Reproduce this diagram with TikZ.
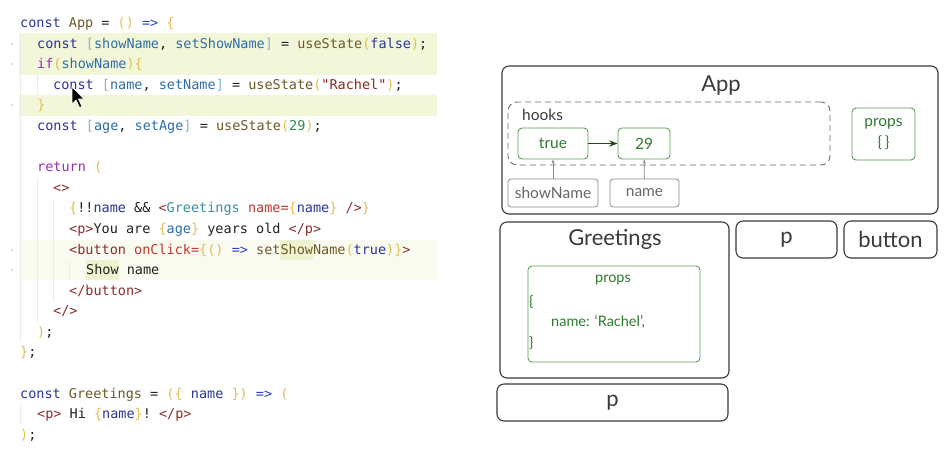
\documentclass[tikz,border=0pt]{standalone}
\usepackage{fontspec}
\setmainfont{Lato}
\setmonofont{DejaVu Sans Mono}
\usetikzlibrary{arrows.meta,positioning}

% code colours
\definecolor{cKw}{HTML}{2B3595}
\definecolor{cFn}{HTML}{6D5A2A}
\definecolor{cVar}{HTML}{2F6EA5}
\definecolor{cBr}{HTML}{7FB6E0}
\definecolor{cPar}{HTML}{E2BE55}
\definecolor{cStr}{HTML}{8E2B1E}
\definecolor{cNum}{HTML}{2E8B4E}
\definecolor{cCtl}{HTML}{9A2FB0}
\definecolor{cArr}{HTML}{2940D0}
\definecolor{cTag}{HTML}{8B2E2E}
\definecolor{cComp}{HTML}{3A8FA3}
\definecolor{cAttr}{HTML}{C0392B}
\definecolor{cTxt}{HTML}{222222}
\definecolor{cHi}{HTML}{F3F7DA}
\definecolor{cHiLight}{HTML}{FAFBF0}
\definecolor{cWord}{HTML}{EEF3CF}
\definecolor{cGuide}{HTML}{EBEBEB}
% diagram colours
\definecolor{cBox}{HTML}{3A3A3A}
\definecolor{cGreen}{HTML}{5A9E5A}
\definecolor{cGreenTxt}{HTML}{2E7A2E}
\definecolor{cGray}{HTML}{8A8A8A}
\definecolor{cGrayTxt}{HTML}{666666}

\newcommand\codefont{\ttfamily\fontsize{13.5}{16}\selectfont}
\newcommand\ckw[1]{\textcolor{cKw}{#1}}
\newcommand\cfn[1]{\textcolor{cFn}{#1}}
\newcommand\cvar[1]{\textcolor{cVar}{#1}}
\newcommand\cbr[1]{\textcolor{cBr}{#1}}
\newcommand\cpar[1]{\textcolor{cPar}{#1}}
\newcommand\cstr[1]{\textcolor{cStr}{#1}}
\newcommand\cnum[1]{\textcolor{cNum}{#1}}
\newcommand\cctl[1]{\textcolor{cCtl}{#1}}
\newcommand\carr[1]{\textcolor{cArr}{#1}}
\newcommand\ctag[1]{\textcolor{cTag}{#1}}
\newcommand\ccomp[1]{\textcolor{cComp}{#1}}
\newcommand\cattr[1]{\textcolor{cAttr}{#1}}

\tikzset{
  code/.style={anchor=base west,inner sep=0pt,font=\codefont,text=cTxt},
  compbox/.style={draw=cBox,line width=1.1pt,rounded corners=7pt},
  title/.style={inner sep=0pt,font=\fontsize{22}{26}\selectfont,text=cBox},
  hookbox/.style={draw=cGray!80!black,dashed,dash pattern=on 6pt off 4pt,line width=0.9pt,rounded corners=9pt},
  greenbox/.style={draw=cGreen,line width=0.9pt,rounded corners=4pt,text=cGreenTxt,font=\fontsize{15.5}{21}\selectfont},
  graybox/.style={draw=cGray,line width=0.8pt,rounded corners=3pt,text=cGrayTxt,font=\fontsize{15.5}{19}\selectfont},
  small/.style={inner sep=0pt,font=\fontsize{15.5}{19}\selectfont},
}

\begin{document}
\begin{tikzpicture}[x=1pt,y=-1pt,>=Stealth]
\useasboundingbox[fill=white] (0,0) rectangle (950,448);

% editor highlights
\fill[cHi] (19,33) rectangle (437,75);
\fill[cHi] (19,95) rectangle (437,116);
\fill[cHiLight] (19,240) rectangle (437,280);
\fill[cWord] (280,240) rectangle (313,260);
\fill[cWord] (86,260) rectangle (119,280);
% indent guides
\draw[cGuide,line width=0.8pt] (20,34) -- (20,342);
\draw[cGuide,line width=0.8pt] (37,75) -- (37,95);
\draw[cGuide,line width=0.8pt] (37,178) -- (37,322);
\draw[cGuide,line width=0.8pt] (53,199) -- (53,301);
\draw[cGuide,line width=0.8pt] (69,261) -- (69,281);
\draw[cGuide,line width=0.8pt] (20,404) -- (20,424);
% gutter marks
\foreach \yy in {44,64,105,250,270}
  \fill[cGray!60] (12,\yy) circle (0.8pt);

% code
\node[code] (l1) at (20,27.5) {\ckw{const} \cfn{App} = \cpar{()} \carr{=>} \cpar{\{}};
\node[code] (l2) at (37,48) {\ckw{const} \cbr{[}\cvar{showName}, \cvar{setShowName}\cbr{]} = \cfn{useState}\cpar{(}\ckw{false}\cpar{)};};
\node[code] (l3) at (37,68.5) {\cctl{if}\cpar{(}\cvar{showName}\cpar{)\{}};
\node[code] (l4) at (53,89) {\ckw{const} \cbr{[}\cvar{name}, \cvar{setName}\cbr{]} = \cfn{useState}\cpar{(}\cstr{"Rachel"}\cpar{)};};
\node[code] (l5) at (37,109.5) {\cpar{\}}};
\node[code] (l6) at (37,130) {\ckw{const} \cbr{[}\cvar{age}, \cvar{setAge}\cbr{]} = \cfn{useState}\cpar{(}\cnum{29}\cpar{)};};
\node[code] (l8) at (37,171.5) {\cctl{return} \cpar{(}};
\node[code] (l9) at (53,192) {\ctag{<>}};
\node[code] (l10) at (69,212.5) {\cpar{\{}!!\ckw{name} \&\& \ctag{<}\ccomp{Greetings} \cattr{name=}\cpar{\{}\ckw{name}\cpar{\}} \ctag{/>}\cpar{\}}};
\node[code] (l11) at (69,233) {\ctag{<p>}You are \cpar{\{}\cvar{age}\cpar{\}} years old \ctag{</p>}};
\node[code] (l12) at (69,254) {\ctag{<button} \cattr{onClick=}\cpar{\{()} \carr{=>} \cfn{setShowName}\cpar{(}\ckw{true}\cpar{)\}}\ctag{>}};
\node[code] (l13) at (86,274.5) {Show name};
\node[code] (l14) at (69,295) {\ctag{</button>}};
\node[code] (l15) at (53,315.5) {\ctag{</>}};
\node[code] (l16) at (37,336) {\cpar{)};};
\node[code] (l17) at (20,356.5) {\cpar{\}};};
\node[code] (l19) at (20,398) {\ckw{const} \cfn{Greetings} = \cpar{(\{} \ckw{name} \cpar{\})} \carr{=>} \cpar{(}};
\node[code] (l20) at (37,418.5) {\ctag{<p>} Hi \cpar{\{}\ckw{name}\cpar{\}}! \ctag{</p>}};
\node[code] (l21) at (20,439) {\cpar{)};};

% mouse pointer
\draw[fill=black,draw=white,line width=0.7pt,line join=round]
  (72,87) -- ++(0,17) -- ++(4,-4) -- ++(3.5,7.5) -- ++(2.5,-1) -- ++(-3.5,-7.5) -- ++(5.5,0) -- cycle;

% App component
\node[compbox,minimum width=436pt,minimum height=148pt] (app) at (720,140) {};
\node[title] (applbl) at (721,85) {App};
\node[hookbox,minimum width=322pt,minimum height=63pt] (hooks) at (669,133.5) {};
\node[small,anchor=west,text=cBox] (hookslbl) at (522,115) {hooks};
\node[greenbox,minimum width=70pt,minimum height=31pt] (htrue) at (553,143.5) {true};
\node[greenbox,minimum width=52pt,minimum height=31pt] (h29) at (644,143.5) {29};
\node[graybox,minimum width=90pt,minimum height=28pt] (showname) at (553,193) {showName};
\node[graybox,minimum width=69pt,minimum height=28pt] (namevar) at (644.5,193) {name};
\node[greenbox,minimum width=63pt,minimum height=52pt,align=center] (appprops) at (883.5,134) {props\\\{\,\}};
\draw[->,line width=1.2pt,draw=cGreenTxt!60!black] (htrue) -- (h29);
\draw[-{Stealth[length=4pt,width=3pt]},line width=0.8pt,draw=cGray] (showname) -- (htrue);
\draw[-{Stealth[length=4pt,width=3pt]},line width=0.8pt,draw=cGray] (namevar) -- (h29);

% Greetings component
\node[compbox,minimum width=229pt,minimum height=156pt] (greet) at (614.5,300) {};
\node[title] (greetlbl) at (615,239) {Greetings};
\node[greenbox,minimum width=172pt,minimum height=96pt] (gprops) at (614,314) {};
\node[small,text=cGreenTxt,font=\fontsize{14.5}{18}\selectfont] (gpropslbl) at (613,280) {props};
\node[small,anchor=west,text=cGreenTxt,font=\fontsize{14.5}{18}\selectfont] (gopen) at (529,302) {\{};
\node[small,anchor=west,text=cGreenTxt,font=\fontsize{14.5}{18}\selectfont] (gname) at (551,322) {name: `Rachel',};
\node[small,anchor=west,text=cGreenTxt,font=\fontsize{14.5}{18}\selectfont] (gclose) at (529,343) {\}};

% host elements
\node[compbox,minimum width=101pt,minimum height=37pt,title,draw=cBox] (pone) at (786.5,239.5) {p};
\node[compbox,minimum width=93pt,minimum height=37pt,title,draw=cBox] (button) at (890.5,239.5) {button};
\node[compbox,minimum width=231pt,minimum height=37pt,title,draw=cBox] (ptwo) at (612.5,402.5) {p};
\end{tikzpicture}
\end{document}
